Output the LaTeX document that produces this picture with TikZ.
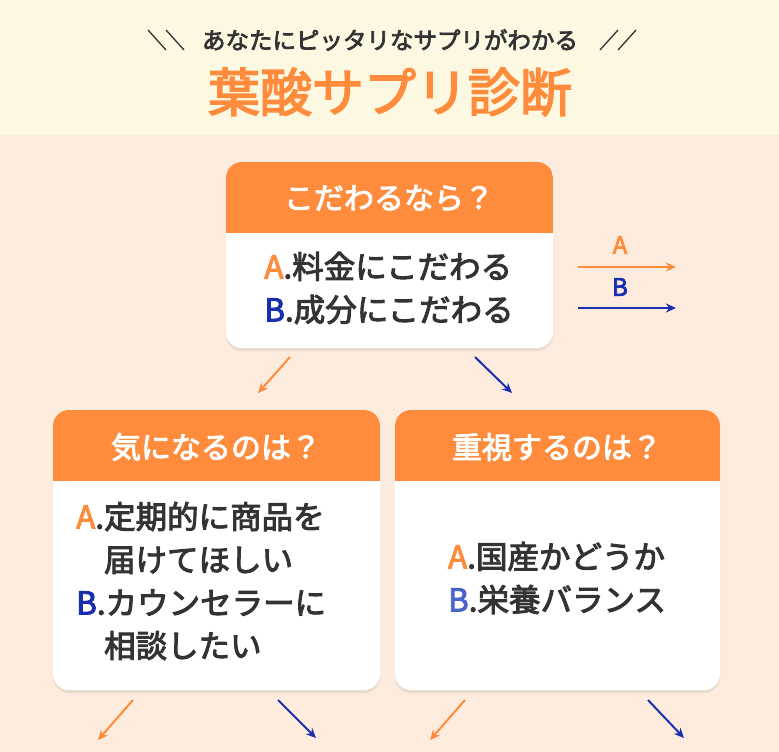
\documentclass[tikz,border=0pt]{standalone}
\usepackage{fontspec}
\setmainfont{Noto Sans CJK JP}
\newfontfamily\cjkb{Noto Sans CJK JP}[FakeBold=3]
\usetikzlibrary{arrows.meta,shadows}
\definecolor{cream}{HTML}{FDF8E2}
\definecolor{peach}{HTML}{FDEBDD}
\definecolor{org}{HTML}{FF8C3C}
\definecolor{blu}{HTML}{1A2FB0}
\definecolor{blu2}{HTML}{4A63C8}
\definecolor{txt}{HTML}{333333}
\tikzset{
 card/.style={draw=none,fill=white,rounded corners=16pt,drop shadow={shadow xshift=0pt,shadow yshift=-3pt,opacity=0.15}},
 htext/.style={text=white,font=\cjkb\fontsize{30}{34}\selectfont},
 btext/.style={text=txt,font=\cjkb\fontsize{31.5}{43}\selectfont,align=left,inner sep=0pt},
 oa/.style={draw=org,line width=2pt,-{Stealth[length=10pt,width=9pt]}},
 ba/.style={draw=blu,line width=2pt,-{Stealth[length=10pt,width=9pt]}},
}
\begin{document}
\begin{tikzpicture}[x=1pt,y=-1pt]
\useasboundingbox (0,0) rectangle (779,752);
\fill[peach] (0,0) rectangle (779,752);
\fill[cream] (0,0) rectangle (779,135);
\node[text=txt,font=\cjkb\fontsize{23.5}{26}\selectfont] (sub) at (390,40) {あなたにピッタリなサプリがわかる};
\draw[txt,line width=1.3pt] (148,30) -- (166,50) (166,30) -- (184,50);
\draw[txt,line width=1.3pt] (600,50) -- (618,30) (618,50) -- (636,30);
\node[text=org,font=\cjkb\fontsize{52}{56}\selectfont] (title) at (390,92) {葉酸サプリ診断};
\path[card] (226,162) rectangle (553,348);
\begin{scope}
\clip[rounded corners=16pt] (226,162) rectangle (553,348);
\fill[org] (226,162) rectangle (553,233);
\end{scope}
\node[htext] (t1) at (389,198) {こだわるなら？};
\node[btext] (b1) at (389,288) {{\color{org}A}.料金にこだわる\\{\color{blu}B}.成分にこだわる};
\coordinate (la1) at (578,267); \coordinate (la2) at (676,267);
\coordinate (lb1) at (578,308); \coordinate (lb2) at (676,308);
\draw[oa] (la1) -- (la2);
\draw[ba] (lb1) -- (lb2);
\node[text=org,font=\cjkb\fontsize{24}{28}\selectfont] (lA) at (620,245) {A};
\node[text=blu,font=\cjkb\fontsize{24}{28}\selectfont] (lB) at (620,287) {B};
\path[card] (53,410) rectangle (380,690);
\begin{scope}
\clip[rounded corners=16pt] (53,410) rectangle (380,690);
\fill[org] (53,410) rectangle (380,481);
\end{scope}
\node[htext] (t2) at (216,447) {気になるのは？};
\node[btext,anchor=west] (b2) at (76,581) {{\color{org}A}.定期的に商品を\\\phantom{A.}届けてほしい\\{\color{blu}B}.カウンセラーに\\\phantom{A.}相談したい};
\path[card] (395,410) rectangle (720,690);
\begin{scope}
\clip[rounded corners=16pt] (395,410) rectangle (720,690);
\fill[org] (395,410) rectangle (720,481);
\end{scope}
\node[htext] (t3) at (557,447) {重視するのは？};
\node[btext] (b3) at (557,578) {{\color{org}A}.国産かどうか\\{\color{blu2}B}.栄養バランス};
\coordinate (d1) at (290,357); \coordinate (d1e) at (258,393);
\coordinate (d2) at (475,357); \coordinate (d2e) at (512,393);
\draw[oa] (d1) -- (d1e);
\draw[ba] (d2) -- (d2e);
\coordinate (e1) at (133,700); \coordinate (e1e) at (98,740);
\coordinate (e2) at (278,700); \coordinate (e2e) at (316,738);
\coordinate (e3) at (465,700); \coordinate (e3e) at (430,740);
\coordinate (e4) at (648,700); \coordinate (e4e) at (684,738);
\draw[oa] (e1) -- (e1e);
\draw[ba] (e2) -- (e2e);
\draw[oa] (e3) -- (e3e);
\draw[ba] (e4) -- (e4e);
\end{tikzpicture}
\end{document}
